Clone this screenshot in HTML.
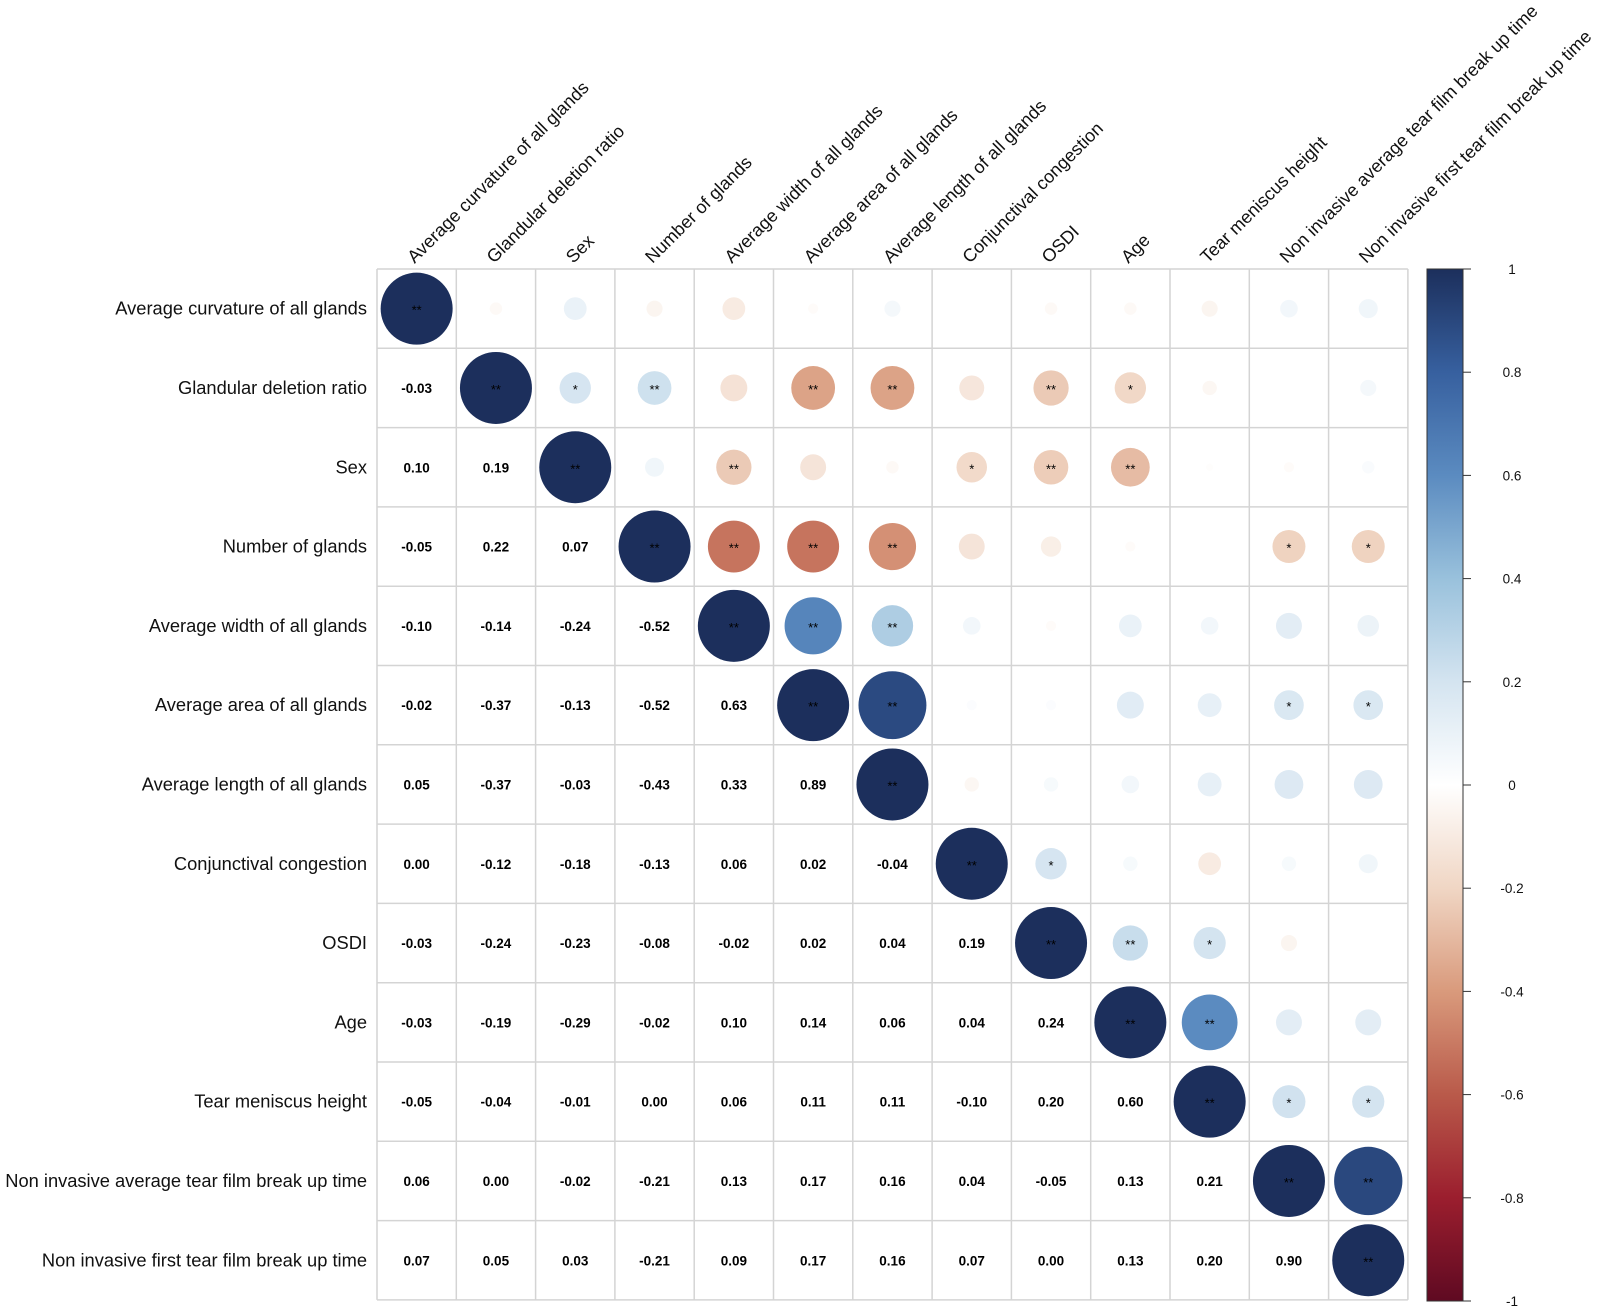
<!DOCTYPE html>
<html><head><meta charset="utf-8"><style>
body{margin:0;background:#fff}
svg{display:block;font-family:"Liberation Sans",Arial,sans-serif}
</style></head><body>
<svg id="chart" width="1606" height="1308"></svg>
<script>
const labels=["Average curvature of all glands","Glandular deletion ratio","Sex","Number of glands","Average width of all glands","Average area of all glands","Average length of all glands","Conjunctival congestion","OSDI","Age","Tear meniscus height","Non invasive average tear film break up time","Non invasive first tear film break up time"];
const lower=[
[],
[-0.03],
[0.10,0.19],
[-0.05,0.22,0.07],
[-0.10,-0.14,-0.24,-0.52],
[-0.02,-0.37,-0.13,-0.52,0.63],
[0.05,-0.37,-0.03,-0.43,0.33,0.89],
[0.00,-0.12,-0.18,-0.13,0.06,0.02,-0.04],
[-0.03,-0.24,-0.23,-0.08,-0.02,0.02,0.04,0.19],
[-0.03,-0.19,-0.29,-0.02,0.10,0.14,0.06,0.04,0.24],
[-0.05,-0.04,-0.01,0.00,0.06,0.11,0.11,-0.10,0.20,0.60],
[0.06,0.00,-0.02,-0.21,0.13,0.17,0.16,0.04,-0.05,0.13,0.21],
[0.07,0.05,0.03,-0.21,0.09,0.17,0.16,0.07,0.00,0.13,0.20,0.90]];
const stars={
"0,0":"**","1,1":"**","2,2":"**","3,3":"**","4,4":"**","5,5":"**","6,6":"**","7,7":"**","8,8":"**","9,9":"**","10,10":"**","11,11":"**","12,12":"**",
"1,2":"*","1,3":"**","1,5":"**","1,6":"**","1,8":"**","1,9":"*",
"2,4":"**","2,7":"*","2,8":"**","2,9":"**",
"3,4":"**","3,5":"**","3,6":"**","3,11":"*","3,12":"*",
"4,5":"**","4,6":"**",
"5,6":"**","5,11":"*","5,12":"*",
"7,8":"*","8,9":"**","8,10":"*","9,10":"**","10,11":"*","10,12":"*","11,12":"**"};
const legendTicks=[1,0.8,0.6,0.4,0.2,0,-0.2,-0.4,-0.6,-0.8,-1];
const palVals=[-1,-0.8,-0.6,-0.4,-0.2,0,0.2,0.4,0.6,0.8,1];
const palCols=["#5f0a22","#9b1e2e","#b95a4a","#d99a7c","#f0d6c4","#FFFFFF","#d4e4f0","#99c1dc","#5b8bc0","#37609f","#1c2f5c"];

const NS="http://www.w3.org/2000/svg";
const svg=document.getElementById('chart');
const X0=377,Y0=269,C=79.3,N=13;
const cx=j=>X0+C*(j+0.5), cy=i=>Y0+C*(i+0.5);
const LX=1427,LW=36,LT=269,LB=1301;
const ly=v=>LT+(1-v)/2*(LB-LT);
function hex(h){return [1,3,5].map(k=>parseInt(h.substr(k,2),16));}
function color(v){
  for(let k=0;k<palVals.length-1;k++){
    if(v<=palVals[k+1]){const t=(v-palVals[k])/(palVals[k+1]-palVals[k]);
      const a=hex(palCols[k]),b=hex(palCols[k+1]);
      return "rgb("+a.map((x,m)=>Math.round(x+(b[m]-x)*t)).join(",")+")";}
  }
  return palCols[palCols.length-1];
}
function el(tag,attrs,parent){const e=document.createElementNS(NS,tag);for(const k in attrs)e.setAttribute(k,attrs[k]);(parent||svg).appendChild(e);return e;}
function r(i,j){if(i===j)return 1;return i>j?lower[i][j]:lower[j][i];}

for(let k=0;k<=N;k++){
  const g1=el('line',{x1:X0+C*k,x2:X0+C*k,y1:Y0,y2:Y0+C*N,stroke:"#d4d4d4","stroke-width":1.5});
  
  
  const g2=el('line',{y1:Y0+C*k,y2:Y0+C*k,x1:X0,x2:X0+C*N,stroke:"#d4d4d4","stroke-width":1.5});
  
  
}
labels.forEach((L,i)=>{
  const t=el('text',{x:367,y:cy(i)+6,"text-anchor":"end","font-size":18.3,fill:"#111"});
  t.textContent=L;
  
  
  const c=el('text',{x:0,y:0,"font-size":18,fill:"#111",transform:`translate(${cx(i)-2},${Y0-5}) rotate(-45)`});
  c.textContent=L;
  
  
});
for(let i=0;i<N;i++)for(let j=0;j<N;j++){
  const v=r(i,j);
  if(j<i){
    const t=el('text',{x:cx(j),y:cy(i)+5,"text-anchor":"middle","font-size":13.5,"font-weight":"bold",fill:"#000"});
    t.textContent=v.toFixed(2);
    
    
  }else{
    const rad=Math.sqrt(Math.abs(v))*36;
    const c=el('circle',{cx:cx(j),cy:cy(i),r:rad,fill:color(v)});
    
    
    const s=stars[i+","+j];
    if(s){const t=el('text',{x:cx(j),y:cy(i)+6,"text-anchor":"middle","font-size":13,fill:"#000"});
      t.textContent=s;
      
      }
  }
}
const defs=el('defs',{});
const grad=el('linearGradient',{id:"lg",x1:0,y1:0,x2:0,y2:1},defs);
palVals.slice().reverse().forEach((v,k)=>{el('stop',{offset:(k/10),"stop-color":color(v)},grad);});
const bar=el('rect',{x:LX,y:LT,width:LW,height:LB-LT,fill:"url(#lg)",stroke:"#333","stroke-width":1});


legendTicks.forEach(v=>{
  const tk=el('line',{x1:LX+LW,x2:LX+LW+8,y1:ly(v),y2:ly(v),stroke:"#333","stroke-width":1});
  
  
  const t=el('text',{x:1512,y:ly(v)+5,"text-anchor":"middle","font-size":13.5,fill:"#111"});
  t.textContent=String(v);
  
  
});
</script>
</body></html>
